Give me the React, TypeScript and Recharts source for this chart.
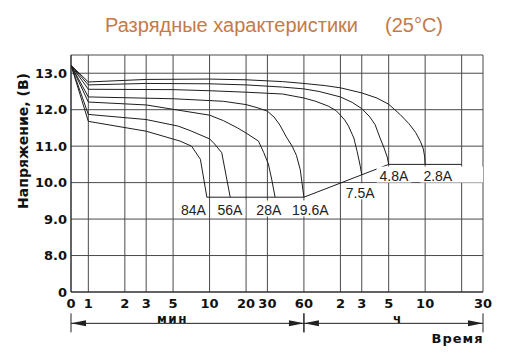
import React from 'react';
import { LineChart, Line, XAxis, YAxis, CartesianGrid, ReferenceLine } from 'recharts';

// ---- axis mapping (log time axis, broken voltage axis) ----
const X_ZERO = -0.143; // where "0" sits on the log-minute axis
const tx = (m: number) => (m === 0 ? X_ZERO : Math.log10(m));
const vy = (v: number) => (v === 0 ? 0 : v - 7);

// ---- ticks ----
const xTickMinutes = [0, 1, 2, 3, 5, 10, 20, 30, 60, 120, 180, 300, 600, 1200, 1800];
const xTickLabels = ['0', '1', '2', '3', '5', '10', '20', '30', '60', '2', '3', '5', '10', '', '30'];
const yTickVolts = [0, 8, 9, 10, 11, 12, 13, 13.5];
const yTickLabels = ['0', '8.0', '9.0', '10.0', '11.0', '12.0', '13.0', ''];

// ---- series (time in minutes, voltage in V) ----
const seriesLabels = ['84A', '56A', '28A', '19.6A', '7.5A', '4.8A', '2.8A'];

const t84 = [0, 1, 3, 5.7, 7.1, 8.4, 9.5];
const v84 = [13.22, 11.68, 11.41, 11.14, 11.0, 10.64, 9.6];

const t56 = [0, 1, 3, 5.5, 7, 10, 11, 12.6, 14.8];
const v56 = [13.22, 11.87, 11.73, 11.55, 11.42, 11.2, 11.06, 10.82, 9.6];

const t28 = [0, 1, 3, 5, 10, 13, 17, 20, 25.3, 28, 30.5, 32.5, 34.7];
const v28 = [13.22, 12.21, 12.13, 12.01, 11.85, 11.7, 11.5, 11.36, 11.14, 10.82, 10.52, 10.1, 9.6];

const t19 = [0, 1, 5, 10, 13, 20, 25, 30, 34, 38, 43, 48, 52, 56, 60];
const v19 = [13.22, 12.35, 12.3, 12.25, 12.23, 12.14, 12.05, 11.96, 11.8, 11.58, 11.25, 11.0, 10.75, 10.35, 9.6];

const t75 = [0, 1, 5, 10, 20, 40, 60, 75, 95, 110, 120, 130, 140, 155, 165, 175, 180];
const v75 = [13.22, 12.56, 12.55, 12.52, 12.48, 12.43, 12.32, 12.23, 12.1, 11.98, 11.85, 11.72, 11.55, 11.22, 10.85, 10.45, 10.21];

const t48 = [0, 1, 3, 10, 20, 40, 60, 80, 120, 150, 180, 210, 232, 255, 275, 292, 300];
const v48 = [13.22, 12.68, 12.72, 12.71, 12.68, 12.62, 12.57, 12.5, 12.35, 12.2, 12.03, 11.8, 11.59, 11.22, 10.95, 10.7, 10.5];

const t28h = [0, 1, 3, 10, 20, 40, 60, 90, 120, 180, 240, 300, 375, 440, 500, 550, 580, 595, 600];
const v28h = [13.22, 12.76, 12.83, 12.84, 12.82, 12.77, 12.72, 12.66, 12.6, 12.46, 12.32, 12.15, 11.86, 11.62, 11.38, 11.12, 10.92, 10.7, 10.5];

// cut-off voltage line
const tCut = [9.5, 60, 300, 1200];
const vCut = [9.6, 9.6, 10.5, 10.5];

// curve-label anchor points (time in minutes, voltage)
const labelTimes = [7.35, 14.7, 30.8, 67.8, 174.5, 332, 763];
const labelVolts = [9.25, 9.25, 9.25, 9.25, 9.72, 10.18, 10.18];
const labelBoxExtra = [0, 0, 0, 0, 0, 0, 32];

const ARROW_LEVEL = -0.86;

const toData = (ts: number[], vs: number[]) => ts.map((t, i) => ({ x: tx(t), y: vy(vs[i]) }));

const curves = [
  toData(t84, v84),
  toData(t56, v56),
  toData(t28, v28),
  toData(t19, v19),
  toData(t75, v75),
  toData(t48, v48),
  toData(t28h, v28h),
];
const cutData = toData(tCut, vCut);
const labelData = labelTimes.map((t, i) => ({ x: tx(t), y: vy(labelVolts[i]) }));

const charW: Record<string, number> = { '.': 3.9, A: 9.34 };
const textW = (s: string) => s.split('').reduce((a, c) => a + (charW[c] ?? 7.79), 0);

const LABEL_FONT = "'Liberation Sans', Arial, sans-serif";
const BOLD_FONT = "'DejaVu Sans', sans-serif";

const renderLabel = (props: any) => {
  const { cx, cy, index } = props;
  if (cx == null || cy == null) return <g key={`l${index}`} />;
  const text = seriesLabels[index];
  const w = textW(text);
  return (
    <g key={`l${index}`}>
      <rect x={cx - w / 2 - 3} y={cy - 9.5} width={w + 6 + labelBoxExtra[index]} height={16} fill="#fff" />
      <text x={cx} y={cy + 5} textAnchor="middle" fontFamily={LABEL_FONT} fontSize={14} fill="#222">
        {text}
      </text>
    </g>
  );
};

const ArrowSeg = (p: any) => {
  const { x1, y1, x2, y2 } = p;
  const h = 3, L = 15;
  return (
    <g>
      <line x1={x1} y1={y1} x2={x2} y2={y2} stroke="#222" strokeWidth={1} />
      <polygon points={`${x1},${y1} ${x1 + L},${y1 - h} ${x1 + L},${y1 + h}`} fill="#222" />
      <polygon points={`${x2},${y2} ${x2 - L},${y2 - h} ${x2 - L},${y2 + h}`} fill="#222" />
      <line x1={x1} y1={y1 - 10} x2={x1} y2={y1 + 9} stroke="#222" strokeWidth={1} />
      <line x1={x2} y1={y2 - 10} x2={x2} y2={y2 + 9} stroke="#222" strokeWidth={1} />
    </g>
  );
};

const xFmt = (v: number) => {
  const i = xTickMinutes.findIndex((m) => Math.abs(tx(m) - v) < 1e-6);
  return i >= 0 ? xTickLabels[i] : '';
};
const yFmt = (v: number) => {
  const i = yTickVolts.findIndex((m) => Math.abs(vy(m) - v) < 1e-6);
  return i >= 0 ? yTickLabels[i] : '';
};

const tickStyle = { fill: '#111', fontSize: 13, fontWeight: 'bold', fontFamily: BOLD_FONT };

export default function App() {
  return (
    <div style={{ position: 'absolute', left: 0, top: 0, width: 508, height: 359, background: '#fff' }}>
      <LineChart width={508} height={359} margin={{ top: 55, right: 25, bottom: 37, left: 11 }}>
        <CartesianGrid stroke="#4a4a4a" strokeWidth={1} />
        <XAxis
          type="number"
          dataKey="x"
          domain={[X_ZERO, Math.log10(1800)]}
          ticks={xTickMinutes.map(tx)}
          tickFormatter={xFmt}
          interval={0}
          allowDataOverflow
          height={30}
          tickLine={false}
          tickSize={6}
          tickMargin={1}
          axisLine={{ stroke: '#222' }}
          tick={tickStyle}
        />
        <YAxis
          type="number"
          dataKey="y"
          domain={[0, 6.5]}
          ticks={yTickVolts.map(vy)}
          tickFormatter={yFmt}
          interval={0}
          allowDataOverflow
          width={60}
          tickLine={false}
          tickSize={2}
          tickMargin={2}
          axisLine={{ stroke: '#222' }}
          tick={tickStyle}
        />
        <Line
          data={labelData}
          dataKey="y"
          stroke="none"
          dot={renderLabel}
          activeDot={false}
          isAnimationActive={false}
        />
        {curves.map((d, i) => (
          <Line
            key={seriesLabels[i]}
            data={d}
            dataKey="y"
            type="linear"
            stroke="#1e1e1e"
            strokeWidth={1}
            dot={false}
            activeDot={false}
            isAnimationActive={false}
          />
        ))}
        <Line
          data={cutData}
          dataKey="y"
          type="linear"
          stroke="#1e1e1e"
          strokeWidth={1}
          dot={false}
          activeDot={false}
          isAnimationActive={false}
        />
        <ReferenceLine
          segment={[{ x: X_ZERO, y: ARROW_LEVEL }, { x: tx(60), y: ARROW_LEVEL }]}
          ifOverflow="visible"
          shape={ArrowSeg}
        />
        <ReferenceLine
          segment={[{ x: tx(60), y: ARROW_LEVEL }, { x: tx(1800), y: ARROW_LEVEL }]}
          ifOverflow="visible"
          shape={ArrowSeg}
        />
      </LineChart>
      <svg
        width={508}
        height={359}
        style={{ position: 'absolute', left: 0, top: 0, pointerEvents: 'none' }}
      >
        <text x={105} y={31.5} fontFamily={LABEL_FONT} fontSize={20} fill="#c57a47">
          Разрядные характеристики
        </text>
        <text x={385} y={31.5} fontFamily={LABEL_FONT} fontSize={20} fill="#c57a47">
          (25°C)
        </text>
        <text
          transform="translate(23,141) rotate(-90)"
          textAnchor="middle"
          dominantBaseline="central"
          fontFamily={BOLD_FONT}
          fontWeight="bold"
          fontSize={14}
          fill="#111"
        >
          Напряжение, (В)
        </text>
        <text x={172.5} y={322.5} textAnchor="middle" fontFamily={BOLD_FONT} fontWeight="bold" fontSize={12} letterSpacing={1.5} fill="#111">
          мин
        </text>
        <text x={397} y={322.5} textAnchor="middle" fontFamily={BOLD_FONT} fontWeight="bold" fontSize={12} fill="#111">
          ч
        </text>
        <text x={457.5} y={343} textAnchor="middle" fontFamily={BOLD_FONT} fontWeight="bold" fontSize={13} letterSpacing={1} fill="#111">
          Время
        </text>
      </svg>
    </div>
  );
}
